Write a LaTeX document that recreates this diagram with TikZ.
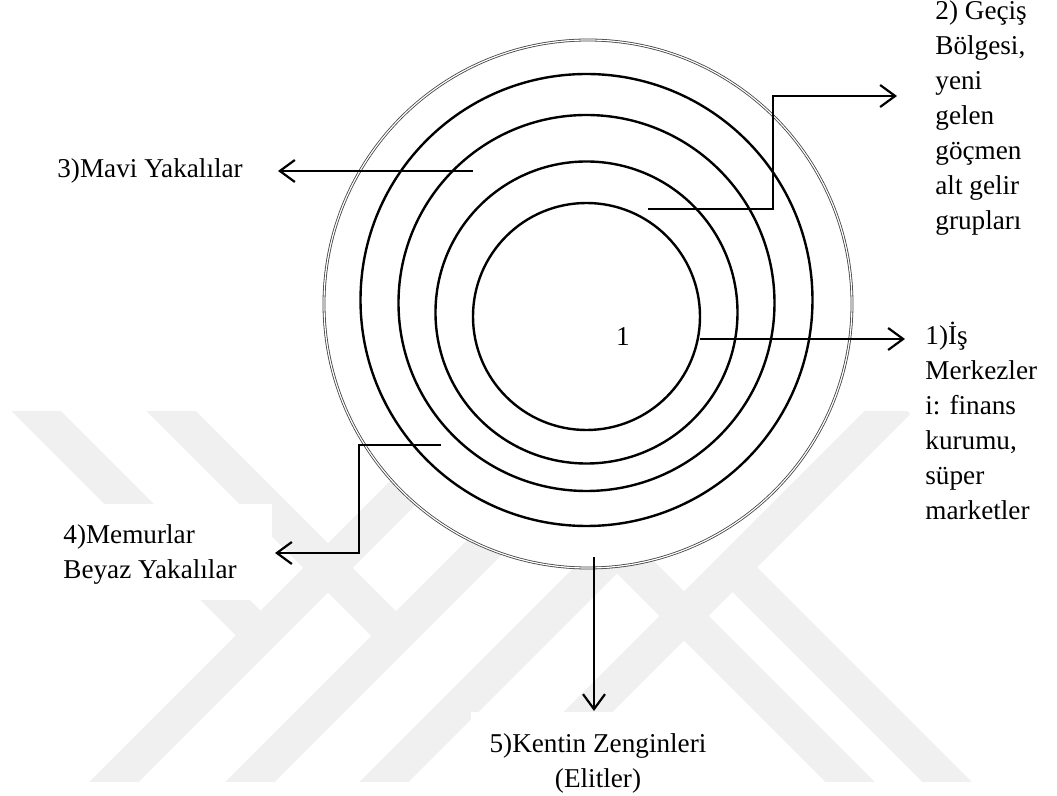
\documentclass[tikz,border=0pt]{standalone}
\usepackage{fontspec}
\setmainfont{Liberation Serif}
\usetikzlibrary{arrows.meta}
\tikzset{
  ring/.style={line width=1.2pt},
  outerring/.style={draw=black!75,line width=0.4pt,double=white,double distance=0.6pt,fill=white},
  arr/.style={line width=1.1pt,-{Straight Barb[length=7.5pt,width=11pt]}},
  lbl/.style={font=\fontsize{13.6}{17.5}\selectfont,inner sep=0pt,align=left},
  wm/.style={line width=17.5pt,black!6}
}
\begin{document}
\begin{tikzpicture}[x=0.5pt,y=-0.5pt]
  \useasboundingbox (0,0) rectangle (1057,796);
  \begin{scope}
    \clip (0,412) rectangle (1057,782);
    \draw[wm] (17,392) -- (263,638);
    \draw[wm] (152,392) -- (398,638);
    \foreach \s in {94,230,364,498} \draw[wm] (\s,802) -- ++(400,-400);
    \draw[wm] (725,560) -- (967,802);
    \draw[wm] (612,544) -- (870,802);
  \end{scope}
  \fill[white] (40,504) rectangle (272,600);
  \fill[white] (471,712) rectangle (733,796);
  \fill[white] (910,320) rectangle (1057,530);

  \draw[outerring] (588,304) circle (264);
  \draw[ring] (586.5,300) circle (226);
  \draw[ring] (586.5,303) circle (188);
  \draw[ring] (586.5,312.5) circle (151);
  \draw[ring] (586.5,316.5) circle (113.5);
  \node[lbl] (core) at (623,337) {1};

  \node[lbl,anchor=base west] (mavi) at (57,178) {3)Mavi Yakalılar};
  \node[lbl,anchor=north west] (gecis) at (935,0.5) {2) Geçiş\\Bölgesi,\\yeni\\gelen\\göçmen\\alt gelir\\grupları};
  \node[lbl,anchor=north west] (is) at (925,322) {1)İş\\Merkezler\\i: finans\\kurumu,\\süper\\marketler};
  \node[lbl,anchor=north west] (memur) at (63,524) {4)Memurlar\\Beyaz Yakalılar};
  \node[lbl,align=center,anchor=north] (kentin) at (598,733) {5)Kentin Zenginleri\\(Elitler)};

  \coordinate (isS) at (700,339);   \coordinate (isE) at (905,339);
  \coordinate (gecisS) at (648,209); \coordinate (gecisK) at (773,150); \coordinate (gecisE) at (897,96);
  \coordinate (maviS) at (473,171); \coordinate (maviE) at (278,171);
  \coordinate (memurS) at (441,445); \coordinate (memurK) at (359,500); \coordinate (memurE) at (275,553);
  \coordinate (kentinS) at (594,557); \coordinate (kentinE) at (594,711);

  \draw[arr] (isS) -- (isE);
  \draw[arr] (gecisS) -| (gecisK) |- (gecisE);
  \draw[arr] (maviS) -- (maviE);
  \draw[arr] (memurS) -| (memurK) |- (memurE);
  \draw[arr] (kentinS) -- (kentinE);
\end{tikzpicture}
\end{document}
